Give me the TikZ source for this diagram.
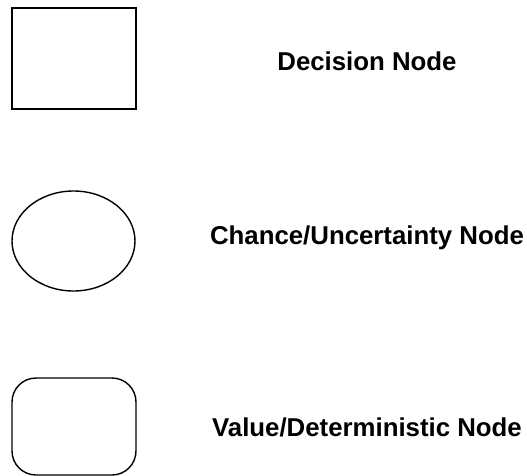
\documentclass[tikz,border=0pt]{standalone}
\usepackage{fontspec}
\setmainfont{Liberation Sans}
\usetikzlibrary{shapes.geometric}

\begin{document}
\begin{tikzpicture}[x=1pt, y=-1pt,
    decision/.style={rectangle, draw, line width=1.4pt, minimum width=124pt, minimum height=101pt, inner sep=0pt},
    chance/.style={ellipse, draw, line width=1.4pt, minimum width=123pt, minimum height=100pt, inner sep=0pt},
    value/.style={rectangle, rounded corners=24pt, draw, line width=1.4pt, minimum width=124pt, minimum height=97pt, inner sep=0pt},
    label/.style={anchor=base, inner sep=0pt, font=\fontsize{25.8}{30}\selectfont\bfseries}]

    % Page frame
    \useasboundingbox (0,0) rectangle (527,476);

    % Decision node
    \node[decision] (dec) at (74,58.5) {};
    \node[label] (declbl) at (367,71) {Decision Node};

    % Chance / uncertainty node
    \node[chance] (chn) at (73.5,241) {};
    \node[label] (chnlbl) at (367,244) {Chance/Uncertainty Node};

    % Value / deterministic node
    \node[value] (val) at (74,426.5) {};
    \node[label] (vallbl) at (367,436) {Value/Deterministic Node};

\end{tikzpicture}
\end{document}
